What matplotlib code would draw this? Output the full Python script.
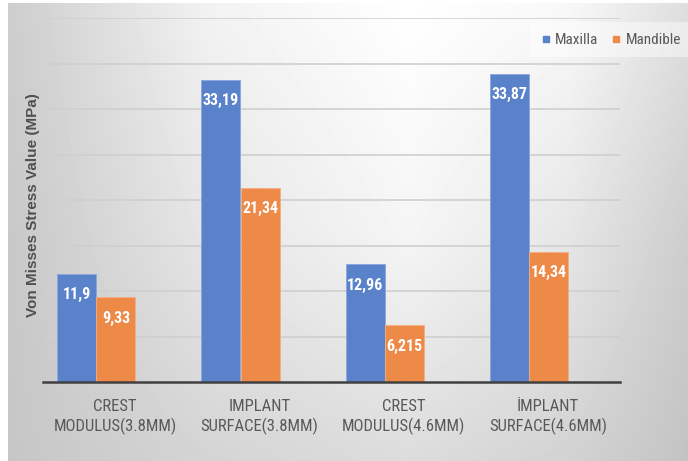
import numpy as np
import matplotlib
matplotlib.use("Agg")
import matplotlib.pyplot as plt
from matplotlib.lines import Line2D
from matplotlib.patches import Rectangle

categories = ["CREST\nMODULUS(3.8MM)", "IMPLANT\nSURFACE(3.8MM)",
              "CREST\nMODULUS(4.6MM)", "İMPLANT\nSURFACE(4.6MM)"]
maxilla = [11.9, 33.19, 12.96, 33.87]
mandible = [9.33, 21.34, 6.215, 14.34]
maxilla_labels = ["11,9", "33,19", "12,96", "33,87"]
mandible_labels = ["9,33", "21,34", "6,215", "14,34"]
series_names = ["Maxilla", "Mandible"]

W, H = 688, 461
fig = plt.figure(figsize=(W / 100, H / 100), dpi=100)
fig.patch.set_facecolor("white")

# background gradient
bg = fig.add_axes([8 / W, 0, 1 - 8 / W, 1 - 3 / H], zorder=0)
cx = np.array([0, 200, 400, 560, 680])
cy = np.array([0, 230, 458])
grid_vals = np.array([
    [205, 242, 255, 248, 222],
    [200, 230, 245, 230, 205],
    [198, 212, 220, 210, 195],
], dtype=float)
xs = np.arange(680)
ys = np.arange(458)
rows = np.array([np.interp(xs, cx, r) for r in grid_vals])
img = np.empty((len(ys), len(xs)))
for j in range(len(xs)):
    img[:, j] = np.interp(ys, cy, rows[:, j])
bg.imshow(img, cmap="gray", vmin=0, vmax=255, aspect="auto", interpolation="bilinear")
bg.axis("off")

narrow = ["Roboto Condensed", "DejaVu Sans"]
gray_text = "#595959"

ax = fig.add_axes([43 / W, 1 - 382 / H, (620 - 43) / W, (382 - 18) / H], zorder=1)
ax.set_facecolor("none")

x = np.arange(len(categories))
bw = 0.27
c_max = "#5A82CA"
c_man = "#EE8A48"
b1 = ax.bar(x - 0.267, maxilla, bw, color=c_max, edgecolor="#8aa6dc", linewidth=0.6, zorder=3)
b2 = ax.bar(x + 0.005, mandible, bw, color=c_man, edgecolor="#f4ae80", linewidth=0.6, zorder=3)

for bars, labs in ((b1, maxilla_labels), (b2, mandible_labels)):
    for rect, lab in zip(bars, labs):
        ax.annotate(lab, (rect.get_x() + rect.get_width() / 2, rect.get_height()),
                    xytext=(0, -21), textcoords="offset pixels", ha="center", va="center",
                    color="white", fontsize=11.5, fontweight="bold", family=narrow, zorder=4)

ax.set_ylim(0, 40)
ax.set_xlim(-0.5, len(categories) - 0.5)
ax.set_yticks(np.arange(5, 41, 5))
ax.yaxis.grid(True, color="#cfcfcf", linewidth=1.2, zorder=0)
ax.set_axisbelow(True)
ax.tick_params(axis="y", length=0, labelleft=False)
ax.tick_params(axis="x", length=0, pad=12)
ax.set_xticks(x)
ax.set_xticklabels(categories, fontsize=12, color=gray_text, family=narrow, linespacing=1.3)
for s in ["top", "right", "left"]:
    ax.spines[s].set_visible(False)
ax.spines["bottom"].set_color("#404040")
ax.spines["bottom"].set_linewidth(1.8)
ax.spines["bottom"].set_zorder(5)

fig.text(33 / W, 1 - 205 / H, "Von Misses Stress Value (MPa)", rotation=90,
         ha="center", va="center", fontsize=11, fontweight="bold", color="#505050",
         family=["Liberation Sans", "DejaVu Sans"])

# legend background band
fig.patches.append(Rectangle((530 / W, 1 - 57 / H), (W - 530) / W, 35 / H,
                             transform=fig.transFigure, facecolor="white", alpha=0.45,
                             edgecolor="none", zorder=1))

handles = [Line2D([], [], marker="s", linestyle="none", markersize=5, color=c_max),
           Line2D([], [], marker="s", linestyle="none", markersize=5, color=c_man)]
leg = fig.legend(handles, series_names, loc="center left", bbox_to_anchor=(541 / W, 1 - 40 / H),
                 ncol=2, frameon=False, handlelength=0.6, handletextpad=0.3,
                 columnspacing=0.9, borderpad=0.0, borderaxespad=0.0,
                 prop={"family": narrow, "size": 11})
for t in leg.get_texts():
    t.set_color(gray_text)

fig.savefig("out.png", dpi=100)
